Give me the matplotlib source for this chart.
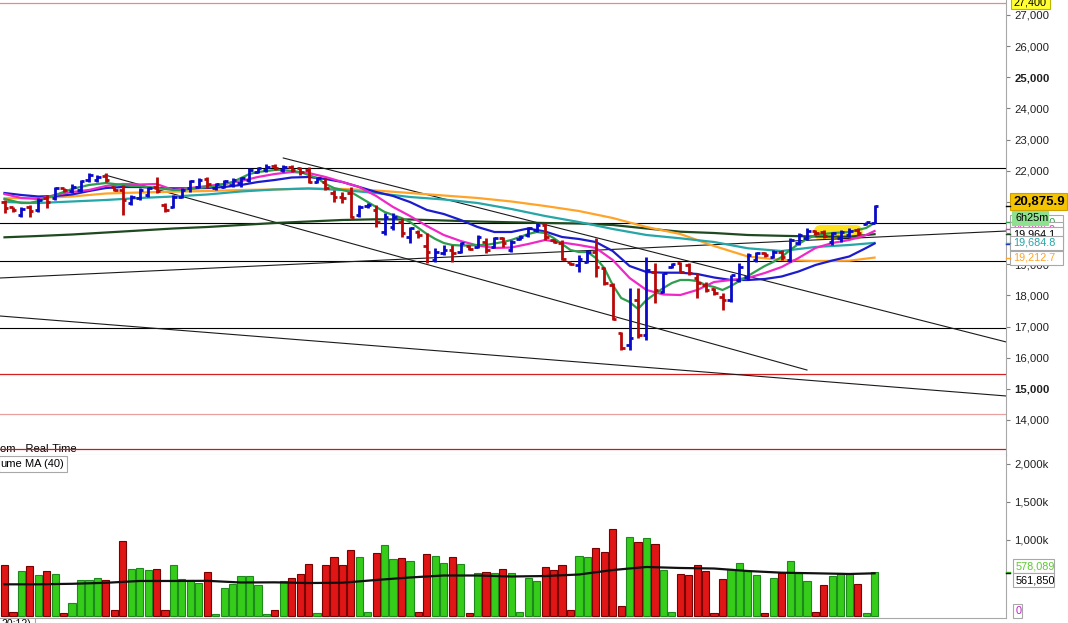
import numpy as np
import matplotlib
matplotlib.use("Agg")
import matplotlib.pyplot as plt
from matplotlib.patches import Rectangle, FancyBboxPatch
from matplotlib.lines import Line2D

plt.rcParams['font.family'] = ['Liberation Sans', 'DejaVu Sans']

W, H, DPI = 1068, 623, 100

# ---------------- data ----------------
opens = [20998, 20837, 20580, 20846, 20741, 21126, 21126, 21447, 21350, 21383,
         21704, 21704, 21842, 21480, 21383, 20965, 21126, 21222, 21489, 20901,
         20846, 21168, 21447, 21489, 21736, 21437, 21489, 21543, 21597, 21704,
         21970, 22025, 22163, 22025, 22131, 22079, 22025, 21649, 21649, 21277,
         21168, 21277, 20580, 20860, 20741, 20044, 20204, 20365, 19884, 20044,
         19585, 19136, 19351, 19457, 19402, 19585, 19562, 19723, 19562, 19832,
         19457, 19800, 19938, 20099, 20259, 19778, 19671, 19071, 18975, 19081,
         19402, 18868, 18333, 16781, 16407, 17852, 16728, 18750, 18118, 18911,
         19030, 18975, 18558, 18333, 18194, 17957, 17852, 18494, 18580, 19136,
         19370, 19242, 19402, 19136, 19691, 19832, 20076, 20044, 19723, 19832,
         19938, 20099, 20281, 20333]
highs = [21062, 20846, 20846, 20901, 21126, 21222, 21489, 21456, 21575, 21704,
         21928, 21864, 21928, 21500, 21543, 21222, 21447, 21489, 21810, 20965,
         21222, 21447, 21704, 21768, 21810, 21607, 21704, 21768, 21810, 22089,
         22131, 22217, 22217, 22185, 22185, 22131, 22131, 21810, 21768, 21383,
         21328, 21489, 20901, 20965, 20901, 20644, 20644, 20484, 20204, 20099,
         20002, 19521, 19617, 19617, 19723, 19617, 19938, 19842, 19884, 19884,
         19778, 19938, 20204, 20314, 20314, 19810, 19778, 19081, 19296, 19457,
         19832, 18921, 18387, 16834, 18227, 18227, 19242, 19030, 18708, 19039,
         19081, 19039, 18718, 18439, 18237, 18066, 18654, 19030, 19351, 19402,
         19402, 19457, 19457, 19832, 19993, 20153, 20099, 20099, 20044, 20099,
         20153, 20153, 20365, 20901]
lows = [20644, 20686, 20527, 20526, 20686, 20805, 21062, 21328, 21286, 21328,
        21649, 21649, 21649, 21350, 20580, 20901, 21062, 21168, 21277, 20676,
        20805, 21126, 21328, 21447, 21447, 21383, 21447, 21489, 21489, 21649,
        21918, 21970, 22025, 21970, 21950, 21864, 21597, 21597, 21383, 21007,
        20955, 20474, 20526, 20805, 20204, 19938, 20099, 19884, 19672, 19842,
        19039, 19081, 19296, 19081, 19351, 19457, 19511, 19351, 19511, 19562,
        19402, 19778, 19884, 20044, 19778, 19681, 19136, 18975, 18760, 19030,
        18600, 18333, 17210, 16247, 16247, 16622, 16568, 17746, 18066, 18879,
        18708, 18654, 17916, 18118, 18012, 17531, 17797, 18439, 18494, 19081,
        19242, 19190, 19136, 19081, 19617, 19778, 19938, 19832, 19617, 19723,
        19884, 19938, 20259, 20314]
closes = [20805, 20741, 20773, 20708, 21062, 21007, 21447, 21383, 21479, 21672,
          21864, 21810, 21704, 21380, 21062, 21168, 21383, 21437, 21350, 20741,
          21168, 21383, 21672, 21704, 21575, 21565, 21672, 21704, 21758, 22025,
          22079, 22131, 22079, 22131, 22025, 21970, 21649, 21758, 21437, 21168,
          21116, 20526, 20846, 20900, 20365, 20526, 20526, 19993, 20153, 19938,
          19392, 19402, 19457, 19360, 19672, 19489, 19884, 19457, 19832, 19672,
          19723, 19884, 20153, 20259, 19884, 19714, 19158, 19007, 19158, 19402,
          18921, 18387, 17231, 16300, 16632, 16728, 18815, 18173, 18708, 19007,
          18761, 18708, 18397, 18173, 18066, 17852, 18654, 18921, 19296, 19351,
          19296, 19402, 19242, 19778, 19938, 20076, 19993, 19906, 19993, 20044,
          20076, 19993, 20346, 20875.9]
volumes_k = [671, 50, 588, 654, 539, 588, 548, 35, 167, 469,
             469, 496, 469, 83, 983, 614, 627, 601, 614, 83,
             671, 482, 469, 430, 575, 22, 368, 421, 522, 522,
             404, 22, 83, 456, 500, 548, 680, 35, 671, 772,
             671, 864, 772, 50, 825, 930, 746, 759, 720, 50,
             812, 785, 693, 772, 680, 35, 561, 575, 561, 614,
             561, 50, 504, 456, 640, 610, 671, 75, 785, 772,
             890, 838, 1140, 127, 1035, 969, 1022, 943, 601, 50,
             548, 535, 671, 588, 35, 482, 614, 693, 588, 539,
             35, 496, 561, 720, 561, 456, 50, 404, 522, 561,
             548, 417, 35, 578.089]

ma_green = [21094, 21030, 20965, 20965, 21030, 21126, 21222, 21318, 21415, 21479,
            21543, 21575, 21607, 21575, 21543, 21511, 21511, 21479, 21447, 21415,
            21383, 21383, 21415, 21447, 21479, 21511, 21575, 21639, 21768, 21896,
            21960, 21992, 22025, 22025, 21992, 21960, 21864, 21768, 21575, 21447,
            21383, 21318, 21158, 20997, 20837, 20677, 20580, 20484, 20355, 20163,
            19970, 19810, 19681, 19617, 19601, 19601, 19617, 19617, 19665, 19713,
            19778, 19874, 19970, 20034, 20002, 19842, 19649, 19457, 19392, 19392,
            19200, 18879, 18333, 17916, 17787, 17563, 17852, 18044, 18237, 18397,
            18494, 18494, 18461, 18333, 18269, 18173, 18301, 18461, 18622, 18783,
            18943, 19071, 19232, 19457, 19649, 19810, 19938, 19970, 20002, 20018,
            20034, 20099, 20163, 20323]
mid_idx = list(range(0, 104, 2)) + [103]
ma_magenta = [21254, 21126, 21094, 21222, 21318, 21383, 21511, 21575, 21559, 21575,
              21383, 21447, 21511, 21575, 21671, 21800, 21896, 21960, 21928, 21800,
              21639, 21479, 21190, 20837, 20548, 20227, 19938, 19745, 19601, 19521,
              19537, 19649, 19778, 19697, 19617, 19521, 19136, 18558, 18173, 18028,
              18012, 18173, 18429, 18494, 18558, 18718, 18911, 19200, 19521, 19681,
              19778, 19938, 20066]
ma_blue = [21286, 21222, 21174, 21190, 21238, 21350, 21447, 21479, 21479, 21447,
           21437, 21437, 21447, 21479, 21543, 21639, 21704, 21784, 21800, 21736,
           21639, 21479, 21318, 21190, 20997, 20741, 20612, 20420, 20195, 20034,
           20034, 20147, 20050, 19874, 19810, 19713, 19424, 18943, 18750, 18728,
           18728, 18686, 18574, 18494, 18494, 18526, 18606, 18766, 18975, 19119,
           19248, 19521, 19665]
slow_idx = list(range(0, 104, 4)) + [103]
ma_teal = [20997, 20965, 21014, 21062, 21126, 21174, 21238, 21335, 21399, 21431,
           21383, 21286, 21158, 21078, 20965, 20773, 20548, 20355, 20131, 19938,
           19832, 19713, 19511, 19424, 19553, 19617, 19684.8]
ma_orange = [21116, 21126, 21174, 21270, 21302, 21328, 21350, 21383, 21399, 21431,
             21415, 21366, 21286, 21206, 21126, 21014, 20869, 20708, 20484, 20195,
             19970, 19585, 19248, 19136, 19103, 19113, 19212.7]
ma_dkgreen = [19864, 19906, 19954, 20018, 20082, 20147, 20195, 20259, 20323, 20371,
              20420, 20442, 20436, 20404, 20371, 20346, 20323, 20307, 20259, 20147,
              20044, 20002, 19938, 19912, 19890, 19883, 19964.1]
vol_ma_k = [417, 417, 424, 437, 461, 461, 463, 441, 443, 434,
            438, 474, 507, 533, 533, 520, 526, 546, 605, 645,
            632, 625, 592, 570, 562, 553, 561.85]

hlines_black = [22085, 20310, 19100, 16945]
hlines_red = [(27400, '#E88A8A'), (15475, '#D42020'), (14191, '#EBA0A0'), (13067, '#C81818')]
trendlines = [((33.0, 22410), (118.6, 16503)),
              ((11.9, 21864), (95.0, 15604)),
              ((-0.53, 17338), (118.6, 14770)),
              ((-0.53, 18558), (118.6, 20066))]
highlight = (95.8, 101.6, 19778, 20259)
price_ticks = list(range(14000, 28000, 1000))
vol_ticks_k = [1000, 1500, 2000]

# ---------------- colours ----------------
UP, DN = '#0A0AC8', '#B80808'
C_GREEN, C_MAG, C_BLUE = '#2E9E4E', '#F028C8', '#1C1CCC'
C_TEAL, C_ORANGE, C_DK = '#26A6A6', '#FFA428', '#1F4A1F'
GRAY = '#A8A8A8'

o = np.array(opens, float); h = np.array(highs, float)
l = np.array(lows, float); c = np.array(closes, float)
v = np.array(volumes_k, float)
x = np.arange(len(c))
up = c >= o
cols = np.where(up, UP, DN)

fig = plt.figure(figsize=(W / DPI, H / DPI), dpi=DPI)
fig.patch.set_facecolor('white')
ax = fig.add_axes([0, 1 - 455 / H, 1006 / W, 455 / H])
axv = fig.add_axes([0, 1 - 618 / H, 1006 / W, (618 - 455) / H])

for a in (ax, axv):
    a.set_xlim(-0.533, 118.56)
    a.set_xticks([])
    a.spines['left'].set_visible(False)
    a.spines['top'].set_visible(False)
    a.spines['right'].set_color(GRAY)
    a.spines['bottom'].set_color(GRAY)
    a.yaxis.tick_right()
    a.tick_params(axis='y', length=3, width=0.8, color='#808080', pad=3,
                  labelsize=8.2, labelcolor='#202020')

ax.set_ylim(12876, 27481.5)
axv.set_ylim(-26, 2118)

# horizontal levels
for y in hlines_black:
    ax.axhline(y, color='black', lw=0.8, zorder=2)
for y, col in hlines_red:
    ax.axhline(y, color=col, lw=0.9, zorder=2)
for (x0, y0), (x1, y1) in trendlines:
    ax.plot([x0, x1], [y0, y1], color='#1a1a1a', lw=0.8, zorder=2)

hx0, hx1, hy0, hy1 = highlight
ax.add_patch(FancyBboxPatch((hx0, hy0), hx1 - hx0, hy1 - hy0,
                            boxstyle="round,pad=0,rounding_size=0.9",
                            mutation_aspect=271, fc='#FFE21F', ec='none', zorder=1.5))

# moving averages
ax.plot(np.array(slow_idx), ma_dkgreen, color=C_DK, lw=1.6, zorder=3)
ax.plot(np.array(slow_idx), ma_orange, color=C_ORANGE, lw=1.6, zorder=3)
ax.plot(np.array(slow_idx), ma_teal, color=C_TEAL, lw=1.6, zorder=3)
ax.plot(np.array(mid_idx), ma_blue, color=C_BLUE, lw=1.6, zorder=3)
ax.plot(np.array(mid_idx), ma_magenta, color=C_MAG, lw=1.6, zorder=3)
ax.plot(x, ma_green, color=C_GREEN, lw=1.6, zorder=3)

# OHLC bars
ax.vlines(x, l, h, colors=cols, lw=2.0, zorder=5)
ax.hlines(o, x - 0.42, x, colors=cols, lw=2.0, zorder=5)
ax.hlines(c, x, x + 0.42, colors=cols, lw=2.0, zorder=5)

# price axis ticks
ax.set_yticks(price_ticks, labels=[f"{t:,}" for t in price_ticks])
for t, val in zip(ax.get_yticklabels(), price_ticks):
    if val in (15000, 25000):
        t.set_fontweight('bold')

ax.text(0.0, 6 / 455, "om - Real-Time", transform=ax.transAxes, fontsize=8,
        va='center', ha='left', color='black', zorder=1)

# volume
vcols_face = np.where(up, '#35CC1A', '#E01515')
vcols_edge = np.where(up, '#1E8A1E', '#780000')
axv.bar(x, v, width=0.85, color=vcols_face, edgecolor=vcols_edge, linewidth=0.8, zorder=3)
axv.plot(np.array(slow_idx), vol_ma_k, color='#111111', lw=1.6, zorder=4)
axv.set_yticks(vol_ticks_k, labels=[f"{t:,}k" for t in vol_ticks_k])

# ---------------- labels on the right scale ----------------
def ypx(a, val):
    return a.transData.transform((0, val))[1]

def tag(yc, text, tc, fc='white', ec='#A8A8A8', x0=1010, x1=1063, hh=14,
        size=7.8, weight='normal', z=10, tick=None, tick_y=None):
    fig.add_artist(Rectangle((x0 / W, (yc - hh / 2) / H), (x1 - x0) / W, hh / H,
                             transform=fig.transFigure, facecolor=fc, edgecolor=ec,
                             linewidth=0.8, zorder=z))
    fig.text((x0 + 3) / W, yc / H, text, color=tc, fontsize=size, fontweight=weight,
             va='center', ha='left', zorder=z + 0.1)
    if tick is not None:
        ty = yc if tick_y is None else tick_y
        fig.add_artist(Line2D([1006 / W, 1010 / W], [ty / H, ty / H],
                              transform=fig.transFigure, color=tick, lw=1.0, zorder=z))

tag(ypx(ax, 27400), "27,400", 'black', fc='#FFFF33', ec='#B8B800', x0=1011, x1=1050, hh=13, z=10)
tag(ypx(ax, ma_green[-1]) + 1, f"{ma_green[-1]:,.1f}", C_GREEN, z=11, tick=C_GREEN)
tag(ypx(ax, ma_magenta[-1]) + 2, f"{ma_magenta[-1]:,.1f}", C_MAG, z=12, tick=C_MAG)
tag(ypx(ax, ma_dkgreen[-1]), f"{ma_dkgreen[-1]:,.1f}", 'black', z=13, tick=C_DK)
tag(ypx(ax, ma_blue[-1]), f"{ma_blue[-1]:,.1f}", C_BLUE, z=14, tick=C_BLUE)
tag(ypx(ax, ma_teal[-1]), f"{ma_teal[-1]:,.1f}", C_TEAL, z=15, tick=C_TEAL)
tag(ypx(ax, ma_orange[-1]), f"{ma_orange[-1]:,.1f}", C_ORANGE, z=16, tick=C_ORANGE)
yc_close = ypx(ax, closes[-1]) + 4
tag(yc_close, f"{closes[-1]:,.1f}", 'black', fc='#F5C400', ec='#D0A000',
    x0=1010, x1=1067, hh=17, size=9.5, weight='bold', z=17, tick='black',
    tick_y=ypx(ax, closes[-1]))
tag(yc_close - 8.5 - 7.5, "6h25m", 'black', fc='#8FE08F', ec='#8FE08F',
    x0=1012, x1=1048, hh=14, size=7.8, z=18)

yv = ypx(axv, volumes_k[-1])
ym = ypx(axv, vol_ma_k[-1])
tag(yv + 6, f"{volumes_k[-1] * 1000:,.0f}", '#5CC832', x0=1013, x1=1054, z=20,
    tick='#35CC1A', tick_y=yv)
tag(ym - 7, f"{vol_ma_k[-1] * 1000:,.0f}", 'black', x0=1013, x1=1054, z=21,
    tick='black', tick_y=ym)
tag(ypx(axv, 0) + 5, "0", '#C020C0', x0=1013, x1=1022, z=22)

# volume legend box (top-left of volume pane)
fig.add_artist(Rectangle((-1 / W, 1 - 472 / H), 68 / W, 16 / H, transform=fig.transFigure,
                         facecolor='white', edgecolor='#A8A8A8', linewidth=0.8, zorder=8))
fig.text(0 / W, 1 - 464 / H, "ume", fontsize=8, va='center', ha='left', zorder=9)
fig.text(25 / W, 1 - 464 / H, "MA (40)", fontsize=8, va='center', ha='left', zorder=9)

# bottom time-axis strip fragment
fig.text(1 / W, 1 - 619 / H, "20:12)", fontsize=7.5, va='top', ha='left', zorder=9)
fig.add_artist(Line2D([35 / W, 35 / W], [0, 5 / H], transform=fig.transFigure,
                      color='#A8A8A8', lw=0.8))

fig.savefig("out.png", dpi=DPI)
